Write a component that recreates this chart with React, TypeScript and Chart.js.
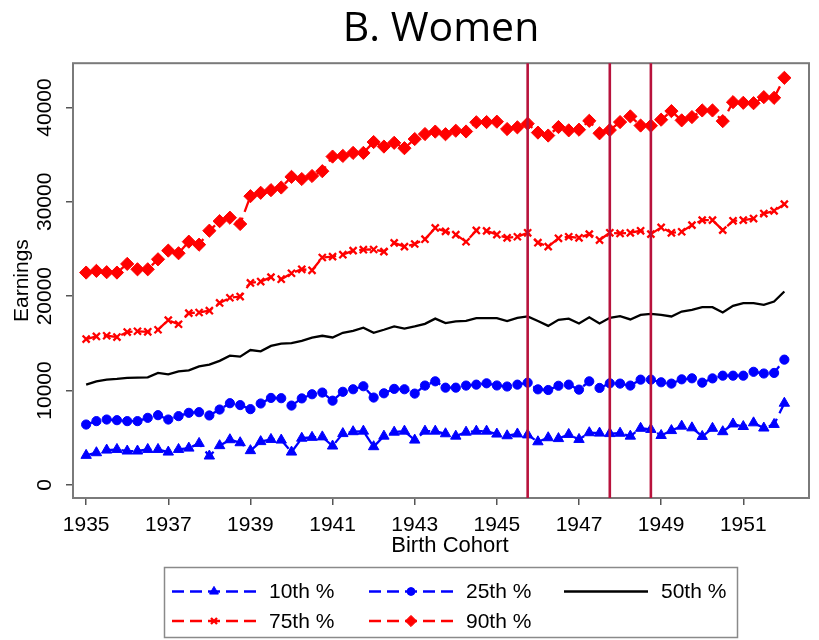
import React, { useEffect, useRef } from 'react';
import { Chart, registerables } from 'chart.js';
import * as helpers from 'chart.js/helpers';

Chart.register(...registerables);

// Birth cohorts, by quarter of birth
const cohorts = [
  1935, 1935.25, 1935.5, 1935.75, 1936, 1936.25, 1936.5, 1936.75,
  1937, 1937.25, 1937.5, 1937.75, 1938, 1938.25, 1938.5, 1938.75,
  1939, 1939.25, 1939.5, 1939.75, 1940, 1940.25, 1940.5, 1940.75,
  1941, 1941.25, 1941.5, 1941.75, 1942, 1942.25, 1942.5, 1942.75,
  1943, 1943.25, 1943.5, 1943.75, 1944, 1944.25, 1944.5, 1944.75,
  1945, 1945.25, 1945.5, 1945.75, 1946, 1946.25, 1946.5, 1946.75,
  1947, 1947.25, 1947.5, 1947.75, 1948, 1948.25, 1948.5, 1948.75,
  1949, 1949.25, 1949.5, 1949.75, 1950, 1950.25, 1950.5, 1950.75,
  1951, 1951.25, 1951.5, 1951.75, 1952,
];

// Earnings percentiles for women, per cohort
const p10 = [
  3120, 3400, 3680, 3750, 3580, 3580, 3750, 3750, 3470, 3750, 3890, 4390,
  3050, 4150, 4780, 4460, 3620, 4580, 4810, 4740, 3470, 4940, 5030, 5080,
  4110, 5430, 5630, 5690, 4040, 5160, 5580, 5690, 4740, 5690, 5690, 5410,
  5160, 5580, 5690, 5690, 5380, 5200, 5390, 5290, 4560, 4990, 4900, 5340,
  4810, 5520, 5480, 5430, 5470, 5160, 5990, 5870, 5230, 5750, 6220, 6040,
  5130, 5990, 5630, 6450, 6180, 6570, 6020, 6400, 8650,
];

const p25 = [
  6390, 6750, 6920, 6850, 6750, 6750, 7100, 7380, 6920, 7280, 7630, 7700,
  7350, 7980, 8650, 8450, 8020, 8620, 9210, 9180, 8400, 9160, 9600, 9780,
  8920, 9860, 10130, 10450, 9250, 9700, 10170, 10130, 9670, 10520, 10970, 10300,
  10300, 10520, 10620, 10760, 10530, 10420, 10620, 10830, 10120, 10050, 10500, 10620,
  10090, 10970, 10270, 10760, 10730, 10520, 11150, 11150, 10870, 10730, 11180, 11290,
  10830, 11280, 11570, 11570, 11570, 11980, 11800, 11860, 13270,
];

const p50 = [
  10620, 10970, 11150, 11220, 11330, 11360, 11400, 11860, 11710, 12030, 12130, 12560,
  12740, 13140, 13690, 13590, 14290, 14150, 14720, 14960, 15030, 15260, 15610, 15800,
  15620, 16120, 16310, 16650, 16120, 16440, 16790, 16570, 16790, 17070, 17620, 17140,
  17320, 17390, 17670, 17670, 17670, 17350, 17700, 17850, 17360, 16850, 17490, 17620,
  17100, 17760, 17100, 17700, 17880, 17530, 18020, 18130, 18020, 17850, 18370, 18550,
  18830, 18830, 18270, 18970, 19260, 19260, 19080, 19430, 20490,
];

const p75 = [
  15450, 15730, 15800, 15660, 16190, 16280, 16220, 16440, 17460, 17020, 18200, 18270,
  18460, 19280, 19830, 19960, 21400, 21550, 22020, 21800, 22430, 22850, 22740, 24100,
  24190, 24400, 24830, 24930, 24950, 24720, 25650, 25250, 25530, 26040, 27230, 26870,
  26520, 25770, 26970, 26920, 26530, 26190, 26300, 26720, 25670, 25250, 26130, 26300,
  26190, 26580, 25950, 26720, 26650, 26720, 26930, 26580, 27290, 26720, 26830, 27530,
  28060, 28060, 27000, 27990, 28060, 28230, 28760, 29040, 29750,
];

const p90 = [
  22500, 22680, 22540, 22500, 23420, 22850, 22850, 23910, 24830, 24550, 25780, 25460,
  26940, 27950, 28320, 27650, 30600, 30960, 31240, 31520, 32650, 32420, 32740, 33250,
  34800, 34870, 35190, 35190, 36340, 35860, 36260, 35690, 36660, 37190, 37450, 37170,
  37540, 37460, 38440, 38460, 38500, 37720, 37900, 38290, 37340, 37030, 37930, 37580,
  37650, 38590, 37270, 37610, 38460, 39060, 38090, 38070, 38710, 39620, 38640, 38990,
  39690, 39690, 38560, 40570, 40500, 40460, 41100, 41030, 43150,
];

const seriesLabels = ['10th %', '25th %', '50th %', '75th %', '90th %'];
const xTickYears = [1935, 1937, 1939, 1941, 1943, 1945, 1947, 1949, 1951];
const yTickValues = [0, 10000, 20000, 30000, 40000];
// Cohorts marked with vertical reference lines
const cohortMarkers = [1945.75, 1947.75, 1948.75];
const xAxisTitle = 'Birth Cohort';

const BLUE = '#0000FF';
const RED = '#FF0000';
const MARKER_RED = '#B8123C';
const SANS = "'Liberation Sans', Arial, sans-serif";

const pairs = (vals: number[]) => vals.map((v, i) => ({ x: cohorts[i], y: v }));

const framePlugin = {
  id: 'plotFrame',
  beforeDatasetsDraw(chart: any) {
    const { ctx, chartArea: a } = chart;
    ctx.save();
    ctx.strokeStyle = '#7a7a7a';
    ctx.lineWidth = 2;
    ctx.strokeRect(a.left, a.top, a.right - a.left, a.bottom - a.top);
    ctx.restore();
  },
};

const cohortLinePlugin = {
  id: 'cohortLines',
  afterDatasetsDraw(chart: any) {
    const { ctx, chartArea: a, scales } = chart;
    ctx.save();
    ctx.strokeStyle = MARKER_RED;
    ctx.lineWidth = 2.6;
    cohortMarkers.forEach((c) => {
      const x = scales.x.getPixelForValue(c);
      ctx.beginPath();
      ctx.moveTo(x, a.top);
      ctx.lineTo(x, a.bottom);
      ctx.stroke();
    });
    ctx.restore();
  },
};

// x-axis caption, set a little right of the plot centre
const xTitlePlugin = {
  id: 'xCaption',
  afterDraw(chart: any) {
    const { ctx, chartArea: a } = chart;
    ctx.save();
    ctx.fillStyle = '#000';
    ctx.font = `22px ${SANS}`;
    ctx.textAlign = 'center';
    ctx.textBaseline = 'middle';
    ctx.fillText(xAxisTitle, (a.left + a.right) / 2 + 9, a.bottom + 47.5);
    ctx.restore();
  },
};

// Boxed legend below the plot: three columns, two rows
const legendPlugin = {
  id: 'boxedLegend',
  afterDraw(chart: any) {
    const { ctx } = chart;
    const box = { left: 164.5, top: 567.5, right: 737.5, bottom: 637.5 };
    const cols = [172, 369, 564];
    const rows = [591.5, 621];
    const sampleLen = 84;
    ctx.save();
    ctx.strokeStyle = '#8a8a8a';
    ctx.lineWidth = 1.5;
    ctx.strokeRect(box.left, box.top, box.right - box.left, box.bottom - box.top);
    chart.data.datasets.forEach((ds: any, i: number) => {
      const x0 = cols[i % 3];
      const y = rows[Math.floor(i / 3)];
      ctx.save();
      ctx.strokeStyle = ds.borderColor;
      ctx.lineWidth = ds.borderWidth;
      ctx.setLineDash(ds.borderDash || []);
      ctx.beginPath();
      ctx.moveTo(x0, y);
      ctx.lineTo(x0 + sampleLen, y);
      ctx.stroke();
      ctx.setLineDash([]);
      if (ds.pointRadius > 0) {
        ctx.fillStyle = ds.pointBackgroundColor;
        ctx.strokeStyle = ds.pointBorderColor;
        ctx.lineWidth = ds.pointBorderWidth;
        helpers.drawPoint(
          ctx,
          { pointStyle: ds.pointStyle, radius: ds.pointRadius * 0.85, borderWidth: ds.pointBorderWidth, rotation: 0 },
          x0 + sampleLen / 2,
          y
        );
      }
      ctx.restore();
      ctx.fillStyle = '#000';
      ctx.font = `21px ${SANS}`;
      ctx.textAlign = 'left';
      ctx.textBaseline = 'middle';
      ctx.fillText(seriesLabels[i], x0 + sampleLen + 13, y + 1);
    });
    ctx.restore();
  },
};

export default function App() {
  const canvasRef = useRef<HTMLCanvasElement | null>(null);

  useEffect(() => {
    if (!canvasRef.current) return;
    Chart.defaults.font.family = SANS;
    Chart.defaults.color = '#000';

    const marker = (style: string, radius: number, color: string, bw: number) => ({
      pointStyle: style,
      pointRadius: radius,
      pointHoverRadius: radius,
      pointBackgroundColor: color,
      pointBorderColor: color,
      pointBorderWidth: bw,
    });

    const chart = new Chart(canvasRef.current, {
      type: 'line',
      data: {
        datasets: [
          {
            label: seriesLabels[0],
            data: pairs(p10),
            borderColor: BLUE,
            borderWidth: 2.3,
            borderDash: [12, 6],
            ...marker('triangle', 6, BLUE, 1),
          },
          {
            label: seriesLabels[1],
            data: pairs(p25),
            borderColor: BLUE,
            borderWidth: 2.3,
            borderDash: [12, 6],
            ...marker('circle', 4.6, BLUE, 1),
          },
          {
            label: seriesLabels[2],
            data: pairs(p50),
            borderColor: '#000',
            borderWidth: 2.3,
            borderDash: [],
            pointRadius: 0,
            pointHoverRadius: 0,
          },
          {
            label: seriesLabels[3],
            data: pairs(p75),
            borderColor: RED,
            borderWidth: 2.3,
            borderDash: [12, 6],
            ...marker('crossRot', 5, RED, 2.3),
          },
          {
            label: seriesLabels[4],
            data: pairs(p90),
            borderColor: RED,
            borderWidth: 2.3,
            borderDash: [12, 6],
            ...marker('rectRot', 6.6, RED, 1),
          },
        ] as any,
      },
      options: {
        animation: false,
        responsive: false,
        layout: { padding: { top: 0, left: 0, right: 10, bottom: 82 } },
        plugins: {
          legend: { display: false },
          tooltip: { enabled: false },
          title: {
            display: true,
            text: 'B. Women',
            fullSize: false,
            color: '#000',
            font: { family: "'Open Sans', sans-serif", size: 41, weight: 'normal' },
            padding: { top: 5, bottom: 9 },
          },
        },
        scales: {
          x: {
            type: 'linear',
            min: 1934.68,
            max: 1952.6,
            afterBuildTicks: (s: any) => {
              s.ticks = xTickYears.map((v) => ({ value: v }));
            },
            afterFit: (s: any) => {
              s.height = 60;
            },
            border: { display: false },
            grid: { drawOnChartArea: false, tickLength: 7, color: '#555', lineWidth: 1.5 },
            ticks: {
              autoSkip: false,
              maxRotation: 0,
              minRotation: 0,
              padding: 8,
              color: '#000',
              font: { size: 21 },
              callback: (v: any) => String(v),
            },
            title: { display: false },
          },
          y: {
            type: 'linear',
            min: -1400,
            max: 44700,
            afterBuildTicks: (s: any) => {
              s.ticks = yTickValues.map((v) => ({ value: v }));
            },
            afterFit: (s: any) => {
              s.width = 73;
            },
            border: { display: false },
            grid: { drawOnChartArea: false, tickLength: 7, color: '#555', lineWidth: 1.5 },
            ticks: {
              minRotation: 90,
              maxRotation: 90,
              crossAlign: 'center',
              padding: -8,
              color: '#000',
              font: { size: 21 },
              callback: (v: any) => String(v),
            },
            title: {
              display: true,
              text: 'Earnings',
              color: '#000',
              font: { size: 21 },
              padding: { top: 10, bottom: 0 },
            },
          },
        },
      } as any,
      plugins: [framePlugin, cohortLinePlugin, xTitlePlugin, legendPlugin],
    });

    return () => chart.destroy();
  }, []);

  return (
    <div style={{ position: 'absolute', left: 0, top: 0, width: 819, height: 640, background: '#fff' }}>
      <canvas ref={canvasRef} width={819} height={640} style={{ display: 'block' }} />
    </div>
  );
}
